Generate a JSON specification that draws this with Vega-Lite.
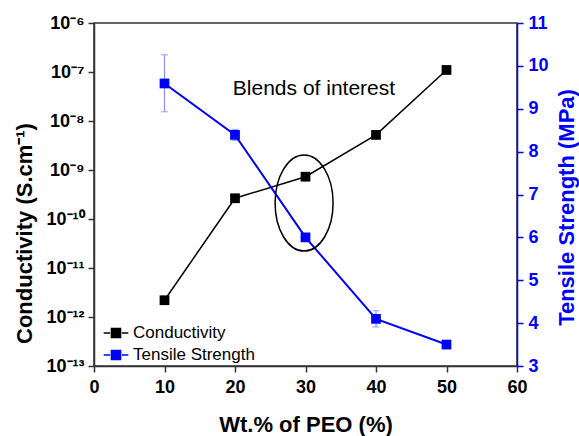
{
  "$schema": "https://vega.github.io/schema/vega-lite/v6.json",
  "width": 423,
  "height": 343,
  "autosize": {"type": "none"},
  "padding": {"left": 94, "top": 23, "right": 62, "bottom": 70},
  "background": "white",
  "config": {
    "view": {"stroke": "#333333", "strokeWidth": 1.5},
    "font": "Liberation Sans",
    "axis": {
      "grid": false,
      "labelFont": "Liberation Sans",
      "titleFont": "Liberation Sans",
      "labelFontWeight": "bold",
      "titleFontWeight": "bold",
      "labelFontSize": 18,
      "titleFontSize": 22,
      "tickSize": 6,
      "domainWidth": 1.5,
      "tickWidth": 1.5,
      "domainColor": "#333333",
      "tickColor": "#333333",
      "labelColor": "black",
      "titleColor": "black"
    }
  },
  "datasets": {
    "cond": [
      {"wt": 10, "cond": 2.2e-12, "series": "Conductivity"},
      {"wt": 20, "cond": 2.65e-10, "series": "Conductivity"},
      {"wt": 30, "cond": 7.3e-10, "series": "Conductivity"},
      {"wt": 40, "cond": 5.2e-9, "series": "Conductivity"},
      {"wt": 50, "cond": 1.1e-7, "series": "Conductivity"}
    ],
    "tens": [
      {"wt": 10, "ts": 9.59, "lo": 8.93, "hi": 10.26, "series": "Tensile Strength"},
      {"wt": 20, "ts": 8.39, "lo": 8.26, "hi": 8.52, "series": "Tensile Strength"},
      {"wt": 30, "ts": 6.0, "lo": 5.95, "hi": 6.05, "series": "Tensile Strength"},
      {"wt": 40, "ts": 4.1, "lo": 3.91, "hi": 4.29, "series": "Tensile Strength"},
      {"wt": 50, "ts": 3.5, "lo": 3.45, "hi": 3.55, "series": "Tensile Strength"}
    ]
  },
  "layer": [
    {
      "data": {"name": "cond"},
      "encoding": {
        "x": {
          "field": "wt", "type": "quantitative",
          "scale": {"domain": [0, 60], "nice": false},
          "axis": {
            "orient": "bottom", "values": [0, 10, 20, 30, 40, 50, 60],
            "title": "Wt.% of PEO (%)", "labelFlush": false, "labelPadding": 6,
            "titleY": 58, "titleBaseline": "middle"
          }
        },
        "y": {
          "field": "cond", "type": "quantitative",
          "scale": {"type": "log", "domain": [1e-13, 1e-6], "nice": false},
          "axis": {
            "orient": "left",
            "values": [1e-13, 1e-12, 1e-11, 1e-10, 1e-9, 1e-8, 1e-7, 1e-6],
            "labelExpr": "'10' + (round(log(datum.value)/LN10) == -6 ? '⁻⁶' : round(log(datum.value)/LN10) == -7 ? '⁻⁷' : round(log(datum.value)/LN10) == -8 ? '⁻⁸' : round(log(datum.value)/LN10) == -9 ? '⁻⁹' : round(log(datum.value)/LN10) == -10 ? '⁻¹⁰' : round(log(datum.value)/LN10) == -11 ? '⁻¹¹' : round(log(datum.value)/LN10) == -12 ? '⁻¹²' : '⁻¹³')",
            "labelPadding": 4,
            "title": "Conductivity (S.cm⁻¹)",
            "titleAngle": -90, "titleBaseline": "middle", "titleAlign": "center",
            "titleX": -70, "titleY": 210
          }
        }
      },
      "layer": [
        {
          "mark": {"type": "line", "strokeWidth": 1.5},
          "encoding": {
            "color": {
              "field": "series", "type": "nominal",
              "scale": {"domain": ["Conductivity", "Tensile Strength"], "range": ["black", "blue"]},
              "legend": {
                "orient": "none", "legendX": 8, "legendY": 296, "title": null,
                "padding": 0,
                "symbolType": "M-0.95,0H-0.45M0.45,0H0.95M-0.35,-0.35H0.35V0.35H-0.35Z",
                "symbolSize": 676,
                "labelFont": "Liberation Sans", "labelFontSize": 17, "labelFontWeight": "normal",
                "labelColor": "black", "labelOffset": 3, "rowPadding": -5,
                "encode": {
                  "symbols": {
                    "update": {
                      "fill": {"scale": "color", "field": "value"},
                      "stroke": {"scale": "color", "field": "value"},
                      "strokeWidth": {"value": 1.5},
                      "opacity": {"value": 1}
                    }
                  }
                }
              }
            }
          }
        },
        {
          "mark": {"type": "point", "shape": "square", "filled": true, "size": 95, "opacity": 1},
          "encoding": {"color": {"field": "series", "type": "nominal"}}
        }
      ]
    },
    {
      "data": {"name": "tens"},
      "encoding": {
        "x": {"field": "wt", "type": "quantitative"},
        "y": {
          "field": "ts", "type": "quantitative",
          "scale": {"domain": [3, 11], "nice": false},
          "axis": {
            "orient": "right", "values": [3, 4, 5, 6, 7, 8, 9, 10, 11],
            "domainColor": "blue", "tickColor": "blue", "labelColor": "blue", "titleColor": "blue",
            "labelPadding": 5,
            "title": "Tensile Strength (MPa)",
            "titleAngle": -90, "titleBaseline": "middle", "titleAlign": "center",
            "titleX": 49, "titleY": 184
          }
        }
      },
      "layer": [
        {
          "mark": {"type": "errorbar", "ticks": {"size": 7}, "color": "#8c8cff", "thickness": 1.2},
          "encoding": {
            "y": {"field": "lo", "type": "quantitative", "title": "Tensile Strength (MPa)"},
            "y2": {"field": "hi"}
          }
        },
        {
          "mark": {"type": "line", "strokeWidth": 2},
          "encoding": {"color": {"field": "series", "type": "nominal"}}
        },
        {
          "mark": {"type": "point", "shape": "square", "filled": true, "size": 95, "opacity": 1},
          "encoding": {"color": {"field": "series", "type": "nominal"}}
        },
        {
          "data": {"values": [{"wt": 29.8, "ts": 6.8}]},
          "mark": {
            "type": "point", "filled": false, "stroke": "black", "strokeWidth": 1.5, "opacity": 1,
            "shape": "M0,-1.655A1,1.655 0 1,1 0,1.655A1,1.655 0 1,1 0,-1.655Z",
            "size": 3364
          }
        },
        {
          "data": {"values": [{"wt": 31.2, "ts": 9.46, "label": "Blends of interest"}]},
          "mark": {"type": "text", "font": "Liberation Sans", "fontSize": 21, "baseline": "middle", "color": "black"},
          "encoding": {"text": {"field": "label"}}
        }
      ]
    }
  ],
  "resolve": {"scale": {"y": "independent"}}
}
